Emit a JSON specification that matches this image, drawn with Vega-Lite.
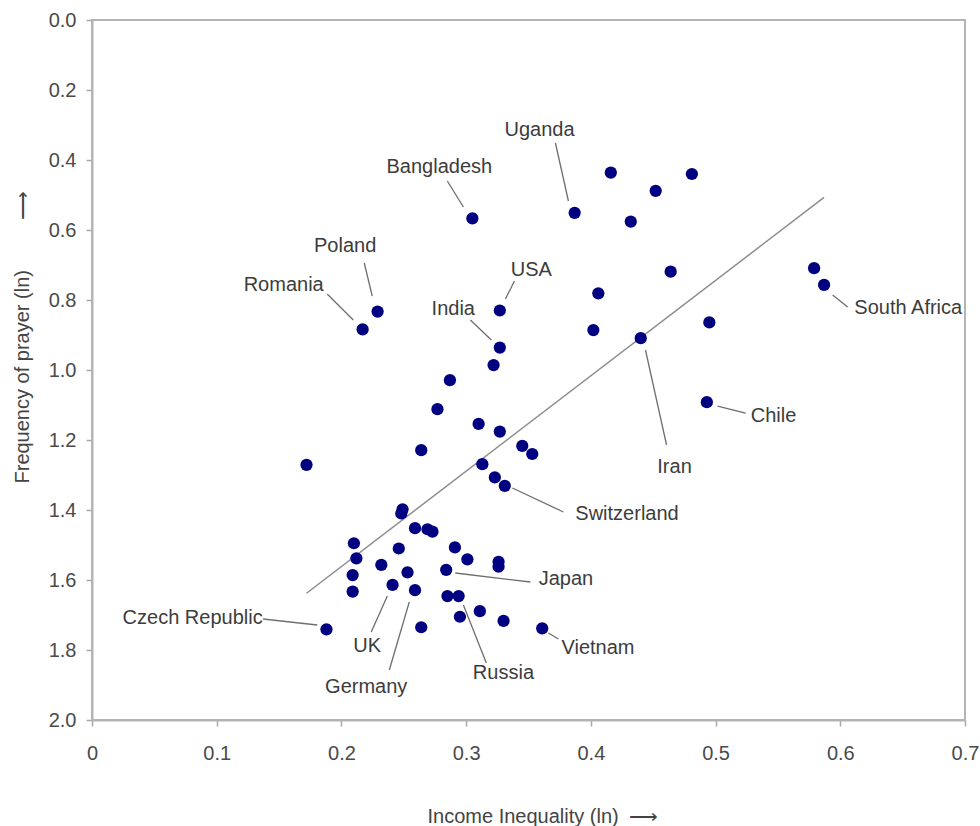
{
  "$schema": "https://vega.github.io/schema/vega-lite/v6.json",
  "width": 873,
  "height": 700,
  "autosize": {"type": "none"},
  "padding": {"left": 92, "top": 20, "right": 15, "bottom": 106},
  "background": "white",
  "config": {
    "view": {"stroke": "#b4b4b4", "strokeWidth": 2},
    "font": "Liberation Sans",
    "axis": {
      "domainColor": "#b4b4b4", "domainWidth": 2,
      "tickColor": "#a8a8a8", "tickWidth": 1.5, "tickSize": 6,
      "grid": false,
      "labelFont": "Liberation Sans", "labelFontSize": 20, "labelColor": "#4a4a4a",
      "titleFont": "Liberation Sans", "titleFontSize": 20, "titleColor": "#444444", "titleFontWeight": "normal"
    }
  },
  "datasets": {
    "points": [
      {"x": 0.172, "y": 1.271}, {"x": 0.305, "y": 0.567}, {"x": 0.387, "y": 0.551}, {"x": 0.416, "y": 0.436},
      {"x": 0.452, "y": 0.488}, {"x": 0.432, "y": 0.576}, {"x": 0.481, "y": 0.440}, {"x": 0.464, "y": 0.719},
      {"x": 0.579, "y": 0.709}, {"x": 0.587, "y": 0.757}, {"x": 0.495, "y": 0.864}, {"x": 0.493, "y": 1.092},
      {"x": 0.229, "y": 0.833}, {"x": 0.217, "y": 0.884}, {"x": 0.327, "y": 0.830}, {"x": 0.327, "y": 0.936},
      {"x": 0.322, "y": 0.986}, {"x": 0.287, "y": 1.029}, {"x": 0.277, "y": 1.112}, {"x": 0.310, "y": 1.154},
      {"x": 0.327, "y": 1.176}, {"x": 0.345, "y": 1.217}, {"x": 0.353, "y": 1.240}, {"x": 0.264, "y": 1.229},
      {"x": 0.313, "y": 1.269}, {"x": 0.323, "y": 1.307}, {"x": 0.331, "y": 1.331}, {"x": 0.249, "y": 1.398},
      {"x": 0.248, "y": 1.410}, {"x": 0.259, "y": 1.452}, {"x": 0.269, "y": 1.455}, {"x": 0.273, "y": 1.462},
      {"x": 0.210, "y": 1.495}, {"x": 0.246, "y": 1.510}, {"x": 0.291, "y": 1.507}, {"x": 0.440, "y": 0.909},
      {"x": 0.406, "y": 0.781}, {"x": 0.402, "y": 0.886}, {"x": 0.212, "y": 1.538}, {"x": 0.209, "y": 1.586},
      {"x": 0.209, "y": 1.633}, {"x": 0.232, "y": 1.557}, {"x": 0.253, "y": 1.578}, {"x": 0.241, "y": 1.614},
      {"x": 0.259, "y": 1.629}, {"x": 0.264, "y": 1.735}, {"x": 0.301, "y": 1.541}, {"x": 0.326, "y": 1.548},
      {"x": 0.326, "y": 1.562}, {"x": 0.284, "y": 1.571}, {"x": 0.285, "y": 1.646}, {"x": 0.294, "y": 1.646},
      {"x": 0.311, "y": 1.689}, {"x": 0.295, "y": 1.705}, {"x": 0.330, "y": 1.717}, {"x": 0.361, "y": 1.738},
      {"x": 0.188, "y": 1.741}
    ],
    "labels": [
      {"label": "Uganda", "x": 0.3588, "y": 0.314, "x1": 0.3716, "y1": 0.3514, "x2": 0.382, "y2": 0.5171},
      {"label": "Bangladesh", "x": 0.2785, "y": 0.42, "x1": 0.2849, "y1": 0.46, "x2": 0.2978, "y2": 0.5343},
      {"label": "Poland", "x": 0.203, "y": 0.646, "x1": 0.2183, "y1": 0.6943, "x2": 0.2247, "y2": 0.7886},
      {"label": "Romania", "x": 0.1537, "y": 0.757, "x1": 0.1886, "y1": 0.7829, "x2": 0.2095, "y2": 0.8571},
      {"label": "USA", "x": 0.3523, "y": 0.714, "x1": 0.3387, "y1": 0.7457, "x2": 0.3315, "y2": 0.7971},
      {"label": "India", "x": 0.2897, "y": 0.826, "x1": 0.3034, "y1": 0.8571, "x2": 0.3202, "y2": 0.9143},
      {"label": "South Africa", "x": 0.6545, "y": 0.823, "x1": 0.5939, "y1": 0.7857, "x2": 0.6059, "y2": 0.82},
      {"label": "Chile", "x": 0.5465, "y": 1.131, "x1": 0.5016, "y1": 1.1029, "x2": 0.5241, "y2": 1.1229},
      {"label": "Iran", "x": 0.4671, "y": 1.277, "x1": 0.4438, "y1": 0.9429, "x2": 0.4607, "y2": 1.2143},
      {"label": "Switzerland", "x": 0.429, "y": 1.411, "x1": 0.3371, "y1": 1.3371, "x2": 0.378, "y2": 1.4057},
      {"label": "Japan", "x": 0.38, "y": 1.597, "x1": 0.2913, "y1": 1.58, "x2": 0.3515, "y2": 1.6057},
      {"label": "UK", "x": 0.2207, "y": 1.789, "x1": 0.2368, "y1": 1.6457, "x2": 0.2239, "y2": 1.7486},
      {"label": "Germany", "x": 0.2199, "y": 1.906, "x1": 0.2544, "y1": 1.6629, "x2": 0.2384, "y2": 1.8571},
      {"label": "Russia", "x": 0.3299, "y": 1.866, "x1": 0.2978, "y1": 1.6714, "x2": 0.3162, "y2": 1.8371},
      {"label": "Vietnam", "x": 0.4057, "y": 1.794, "x1": 0.366, "y1": 1.7514, "x2": 0.374, "y2": 1.7686},
      {"label": "Czech Republic", "x": 0.0807, "y": 1.709, "x1": 0.1372, "y1": 1.7114, "x2": 0.1806, "y2": 1.7286}
    ]
  },
  "encoding": {
    "x": {
      "field": "x", "type": "quantitative",
      "scale": {"domain": [0, 0.7], "nice": false, "zero": false},
      "axis": {
        "values": [0, 0.1, 0.2, 0.3, 0.4, 0.5, 0.6, 0.7],
        "labelExpr": "datum.value == 0 ? '0' : format(datum.value, '.1f')",
        "labelPadding": 17, "labelFlush": false, "labelOverlap": false,
        "title": "Income Inequality (ln)\u2002\u27f6",
        "titleAlign": "left", "titleAnchor": "start", "titleX": 335,
        "titleY": 102, "titleBaseline": "alphabetic"
      }
    },
    "y": {
      "field": "y", "type": "quantitative",
      "scale": {"domain": [0, 2], "nice": false, "zero": false, "reverse": true},
      "axis": {
        "values": [0, 0.2, 0.4, 0.6, 0.8, 1.0, 1.2, 1.4, 1.6, 1.8, 2.0],
        "format": ".1f", "labelPadding": 10, "labelFlush": false, "labelOverlap": false,
        "title": "Frequency of prayer (ln)\u2003\u2003\u2002\u27f6",
        "titleAngle": -90, "titleAlign": "left", "titleAnchor": "start", "titleBaseline": "alphabetic",
        "titleX": -64, "titleY": 463
      }
    }
  },
  "layer": [
    {
      "data": {"name": "points"},
      "transform": [{"regression": "y", "on": "x"}],
      "mark": {"type": "line", "color": "#8c8c8c", "strokeWidth": 1.5}
    },
    {
      "data": {"name": "labels"},
      "mark": {"type": "rule", "color": "#6e6e6e", "strokeWidth": 1.3},
      "encoding": {
        "x": {"field": "x1", "type": "quantitative", "scale": {"domain": [0, 0.7], "nice": false, "zero": false}, "title": "Income Inequality (ln)\u2002\u27f6"},
        "y": {"field": "y1", "type": "quantitative", "scale": {"domain": [0, 2], "nice": false, "zero": false, "reverse": true}, "title": "Frequency of prayer (ln)\u2003\u2003\u2002\u27f6"},
        "x2": {"field": "x2"},
        "y2": {"field": "y2"}
      }
    },
    {
      "data": {"name": "points"},
      "mark": {"type": "circle", "size": 150, "color": "#000080", "opacity": 1}
    },
    {
      "data": {"name": "labels"},
      "mark": {"type": "text", "fontSize": 20, "color": "#3c3c3c", "align": "center", "baseline": "middle", "font": "Liberation Sans"},
      "encoding": {"text": {"field": "label"}}
    },
    {
      "data": {"values": [{"t": "R² = 0.42"}]},
      "mark": {"type": "text", "fontSize": 20, "color": "#3c3c3c", "align": "right", "baseline": "middle", "font": "Liberation Sans"},
      "encoding": {
        "x": {"datum": 0.6966, "type": "quantitative"},
        "y": {"datum": 0.0943, "type": "quantitative"},
        "text": {"field": "t"}
      }
    }
  ]
}
